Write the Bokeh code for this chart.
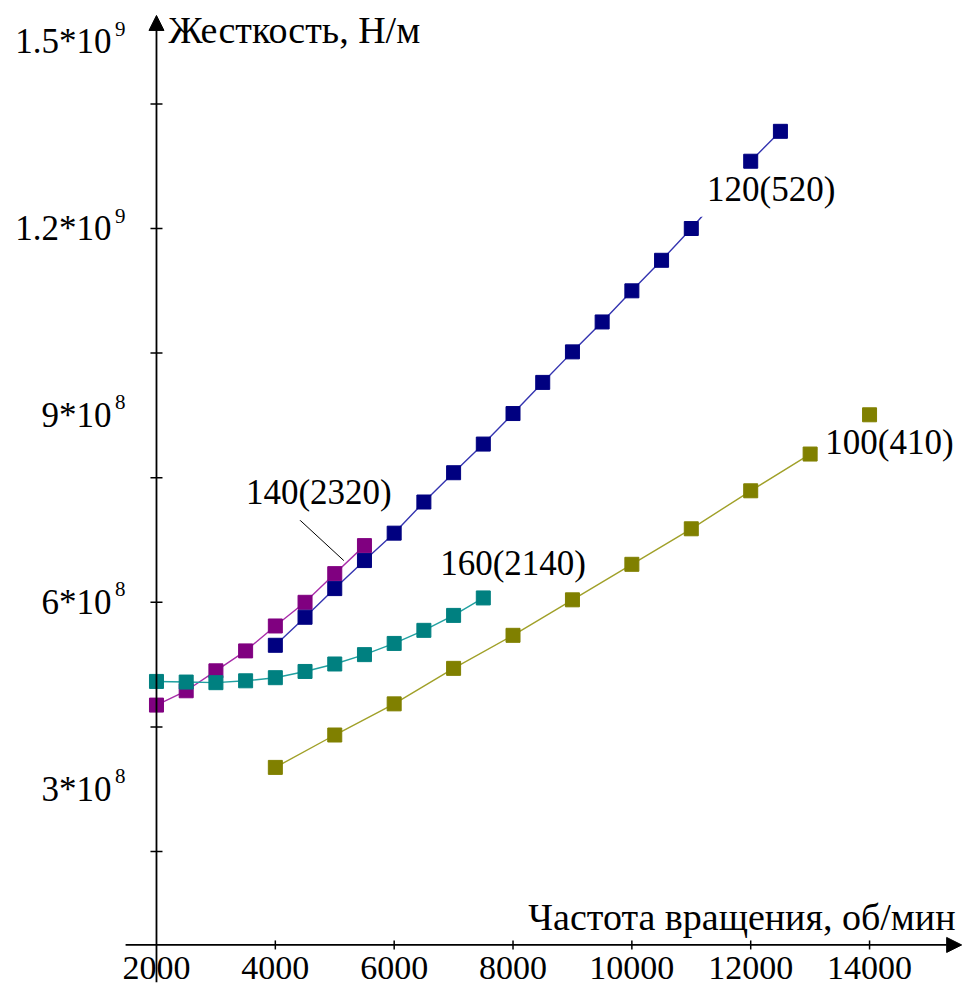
from math import pi

from bokeh.core.properties import value
from bokeh.embed import file_html
from bokeh.models import Arrow, NormalHead, Range1d
from bokeh.plotting import figure
from bokeh.resources import INLINE

FONT = "Liberation Serif"
NUM_SIZE = "35px"
TITLE_SIZE = "38px"

# Rotational speed (rpm) and bearing stiffness (N/m) for each variant
speed_100 = [4000, 5000, 6000, 7000, 8000, 9000, 10000, 11000, 12000, 13000, 14000]
stiff_100 = [3.35e8, 3.87e8, 4.37e8, 4.94e8, 5.47e8, 6.04e8, 6.61e8, 7.18e8, 7.79e8, 8.38e8, 9.01e8]

speed_120 = [4000, 4500, 5000, 5500, 6000, 6500, 7000, 7500, 8000, 8500,
             9000, 9500, 10000, 10500, 11000, 12000, 12500]
stiff_120 = [5.31e8, 5.76e8, 6.22e8, 6.67e8, 7.11e8, 7.61e8, 8.08e8, 8.54e8, 9.03e8, 9.53e8,
             1.002e9, 1.050e9, 1.100e9, 1.149e9, 1.200e9, 1.308e9, 1.356e9]

speed_140 = [2000, 2500, 3000, 3500, 4000, 4500, 5000, 5500]
stiff_140 = [4.35e8, 4.58e8, 4.90e8, 5.22e8, 5.62e8, 6.00e8, 6.46e8, 6.91e8]

speed_160 = [2000, 2500, 3000, 3500, 4000, 4500, 5000, 5500, 6000, 6500, 7000, 7500]
stiff_160 = [4.73e8, 4.72e8, 4.71e8, 4.74e8, 4.79e8, 4.89e8, 5.01e8, 5.16e8, 5.34e8, 5.55e8, 5.79e8, 6.07e8]

series_names = ["140(2320)", "100(410)", "120(520)", "160(2140)"]
series_speed = [speed_140, speed_100, speed_120, speed_160]
series_stiff = [stiff_140, stiff_100, stiff_120, stiff_160]
marker_colors = ["#800080", "#808000", "#000080", "#008080"]
line_colors = ["#a82ca8", "#a0a028", "#3434b0", "#20a0a0"]

# Where each curve's name is written (left edge of its box, vertical middle)
name_x = [3370, 13120, 11130, 6724]
name_y = [7.76e8, 8.56e8, 1.263e9, 6.62e8]
name_padding = [8, 8, 8, 3]

# Axes
x_ticks = [2000, 4000, 6000, 8000, 10000, 12000, 14000]
x_tick_labels = ["2000", "4000", "6000", "8000", "10000", "12000", "14000"]
y_ticks = [2e8, 4e8, 6e8, 8e8, 1.0e9, 1.2e9, 1.4e9]
y_label_values = [3e8, 6e8, 9e8, 1.2e9, 1.5e9]
y_label_mantissas = ["3*10", "6*10", "9*10", "1.2*10", "1.5*10"]
y_label_exponents = ["8", "8", "8", "9", "9"]
x_title = "Частота вращения, об/мин"
y_title = "Жесткость, Н/м"

AXIS_X = 2000      # the stiffness axis stands at this speed
AXIS_Y = 5e7       # the speed axis lies at this stiffness

p = figure(width=963, height=988, output_backend="svg", toolbar_location=None,
           x_range=Range1d(-625, 15581), y_range=Range1d(-1.99e7, 1.566e9),
           x_axis_location=None, y_axis_location=None, min_border=0)
p.grid.visible = False
p.outline_line_color = None
p.background_fill_color = "white"
p.border_fill_color = "white"

# axis lines with arrow heads
p.add_layout(Arrow(end=NormalHead(size=15, fill_color="black", line_color="black"),
                   x_start=AXIS_X, y_start=-1e7, x_end=AXIS_X, y_end=1.542e9,
                   line_color="black", line_width=1.8))
p.add_layout(Arrow(end=NormalHead(size=15, fill_color="black", line_color="black"),
                   x_start=1480, y_start=AXIS_Y, x_end=15550, y_end=AXIS_Y,
                   line_color="black", line_width=1.8))

# tick marks crossing the axes
p.scatter(x=x_ticks[1:], y=[AXIS_Y] * (len(x_ticks) - 1), marker="dash", angle=pi / 2,
          size=9, line_color="black", line_width=1.5)
p.scatter(x=[AXIS_X] * len(y_ticks), y=y_ticks, marker="dash",
          size=12, line_color="black", line_width=1.5)

# tick labels
p.text(x=x_ticks, y=[AXIS_Y] * len(x_ticks), text=x_tick_labels, y_offset=23,
       text_align="center", text_baseline="middle", text_font=value(FONT),
       text_font_size="34px", text_color="black")
p.text(x=[AXIS_X] * len(y_label_values), y=y_label_values, text=y_label_mantissas,
       x_offset=-45, text_align="right", text_baseline="middle", text_font=value(FONT),
       text_font_size=NUM_SIZE, text_color="black")
p.text(x=[AXIS_X] * len(y_label_values), y=y_label_values, text=y_label_exponents,
       x_offset=-31, y_offset=-13, text_align="right", text_baseline="middle",
       text_font=value(FONT), text_font_size="21px", text_color="black")

# axis titles
p.text(x=[AXIS_X], y=[1.519e9], text=[y_title], x_offset=12, text_align="left",
       text_baseline="middle", text_font=value(FONT), text_font_size=TITLE_SIZE,
       text_color="black")
p.text(x=[15447], y=[9.49e7], text=[x_title], text_align="right",
       text_baseline="middle", text_font=value(FONT), text_font_size=TITLE_SIZE,
       text_color="black")

# curve lines
for xs, ys, lc in zip(series_speed, series_stiff, line_colors):
    p.line(xs, ys, line_color=lc, line_width=1.4)

# leader from the "140(2320)" name to its curve
p.segment(x0=[4243], y0=[7.47e8], x1=[5152], y1=[6.67e8], line_color="black", line_width=1)

# curve names on white boxes that mask the lines passing behind them
for nx, ny, name, pad in zip(name_x, name_y, series_names, name_padding):
    p.text(x=[nx], y=[ny], text=[name], text_align="left", text_baseline="middle",
           text_font=value(FONT), text_font_size=NUM_SIZE, text_color="black",
           background_fill_color="white", padding=pad)

# point markers
for xs, ys, mc in zip(series_speed, series_stiff, marker_colors):
    p.scatter(xs, ys, marker="square", size=14, fill_color=mc, line_color=mc)

open("out.html", "w").write(file_html(p, INLINE, title="Жесткость"))
